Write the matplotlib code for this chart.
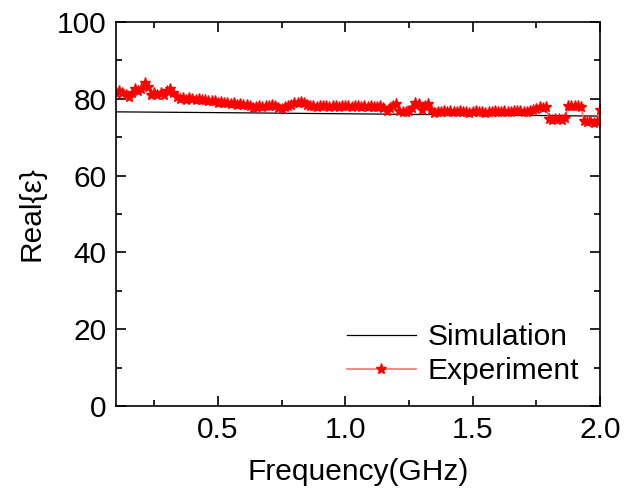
import numpy as np
import matplotlib.pyplot as plt
from matplotlib.ticker import MultipleLocator

plt.rcParams['font.family'] = ['Liberation Sans', 'DejaVu Sans']

# simulation curve (nearly flat)
sim_freq = [0.1, 0.5, 1.0, 1.5, 2.0]
sim_real = [76.6, 76.4, 76.1, 75.8, 75.5]

# measured points, 0.1 .. 2.0 GHz every 12.5 MHz
exp_freq = np.arange(153) * 0.0125 + 0.1
exp_real = [
    81.5, 82.0, 81.5, 81.0, 80.5, 81.5, 82.5, 82.0, 82.5, 84.0,
    83.0, 81.0, 81.5, 81.0, 81.5, 81.0, 82.0, 82.5, 81.5, 80.5,
    80.0, 80.3, 79.8, 80.2, 80.0, 79.8, 80.0, 79.6, 79.8, 79.5,
    79.3, 79.5, 79.0, 79.2, 78.8, 79.0, 78.6, 78.8, 78.5, 78.6,
    78.3, 78.5, 78.0, 77.6, 77.8, 78.0, 77.8, 78.2, 78.0, 78.3,
    78.0, 77.6, 77.4, 77.8, 78.2, 78.5, 78.8, 79.0, 79.2, 78.8,
    78.5, 78.0, 78.2, 77.9, 78.1, 78.0, 78.2, 77.9, 78.1, 78.0,
    77.8, 78.1, 78.0, 78.2, 77.9, 78.0, 78.1, 77.8, 78.0, 77.9,
    78.1, 77.8, 77.9, 78.0, 77.7, 76.8, 77.5, 78.0, 78.6, 76.8,
    76.5, 76.6, 76.8, 77.5, 78.8, 78.6, 77.0, 78.2, 78.7, 77.2,
    76.4, 76.6, 76.5, 76.7, 76.6, 76.8, 76.5, 76.6, 76.7, 76.5,
    76.6, 76.4, 76.6, 76.7, 76.5, 76.6, 76.4, 76.5, 76.6, 76.7,
    76.5, 76.6, 76.8, 76.6, 76.5, 76.7, 76.9, 76.8, 76.6, 76.5,
    76.7, 77.0, 77.4, 77.8, 77.5, 77.8, 74.8, 74.6, 74.8, 74.7,
    74.6, 74.9, 78.0, 78.2, 78.0, 78.1, 77.9, 74.2, 74.0, 74.2,
    73.8, 74.0, 77.0,
]

fs = 21.5

fig = plt.figure(figsize=(6.25, 5), dpi=100)
ax = fig.add_axes([0.1856, 0.188, 0.7744, 0.768])

ax.plot(sim_freq, sim_real, color='black', lw=0.9, label='Simulation')
ax.plot(exp_freq, exp_real, color='#ff7070', lw=1.2, marker='*',
        markersize=8, markerfacecolor='red', markeredgecolor='red',
        label='Experiment')

ax.set_xlim(0.1, 2.0)
ax.set_ylim(0, 100)
ax.xaxis.set_major_locator(MultipleLocator(0.5))
ax.xaxis.set_minor_locator(MultipleLocator(0.25))
ax.yaxis.set_major_locator(MultipleLocator(20))
ax.yaxis.set_minor_locator(MultipleLocator(10))
ax.tick_params(which='both', direction='in', top=True, right=True,
               labelsize=fs, width=1.2)
ax.tick_params(which='major', length=7, pad=7)
ax.tick_params(which='minor', length=4)
for s in ax.spines.values():
    s.set_linewidth(1.2)

ax.set_xlabel('Frequency(GHz)', fontsize=fs, labelpad=10)
ax.set_ylabel('Real{ε}', fontsize=fs, labelpad=8)

ax.legend(loc='lower right', fontsize=fs, frameon=False,
          handlelength=2.3, handletextpad=0.4, labelspacing=0.2,
          borderaxespad=0.3)

fig.savefig('out.png', dpi=100)
